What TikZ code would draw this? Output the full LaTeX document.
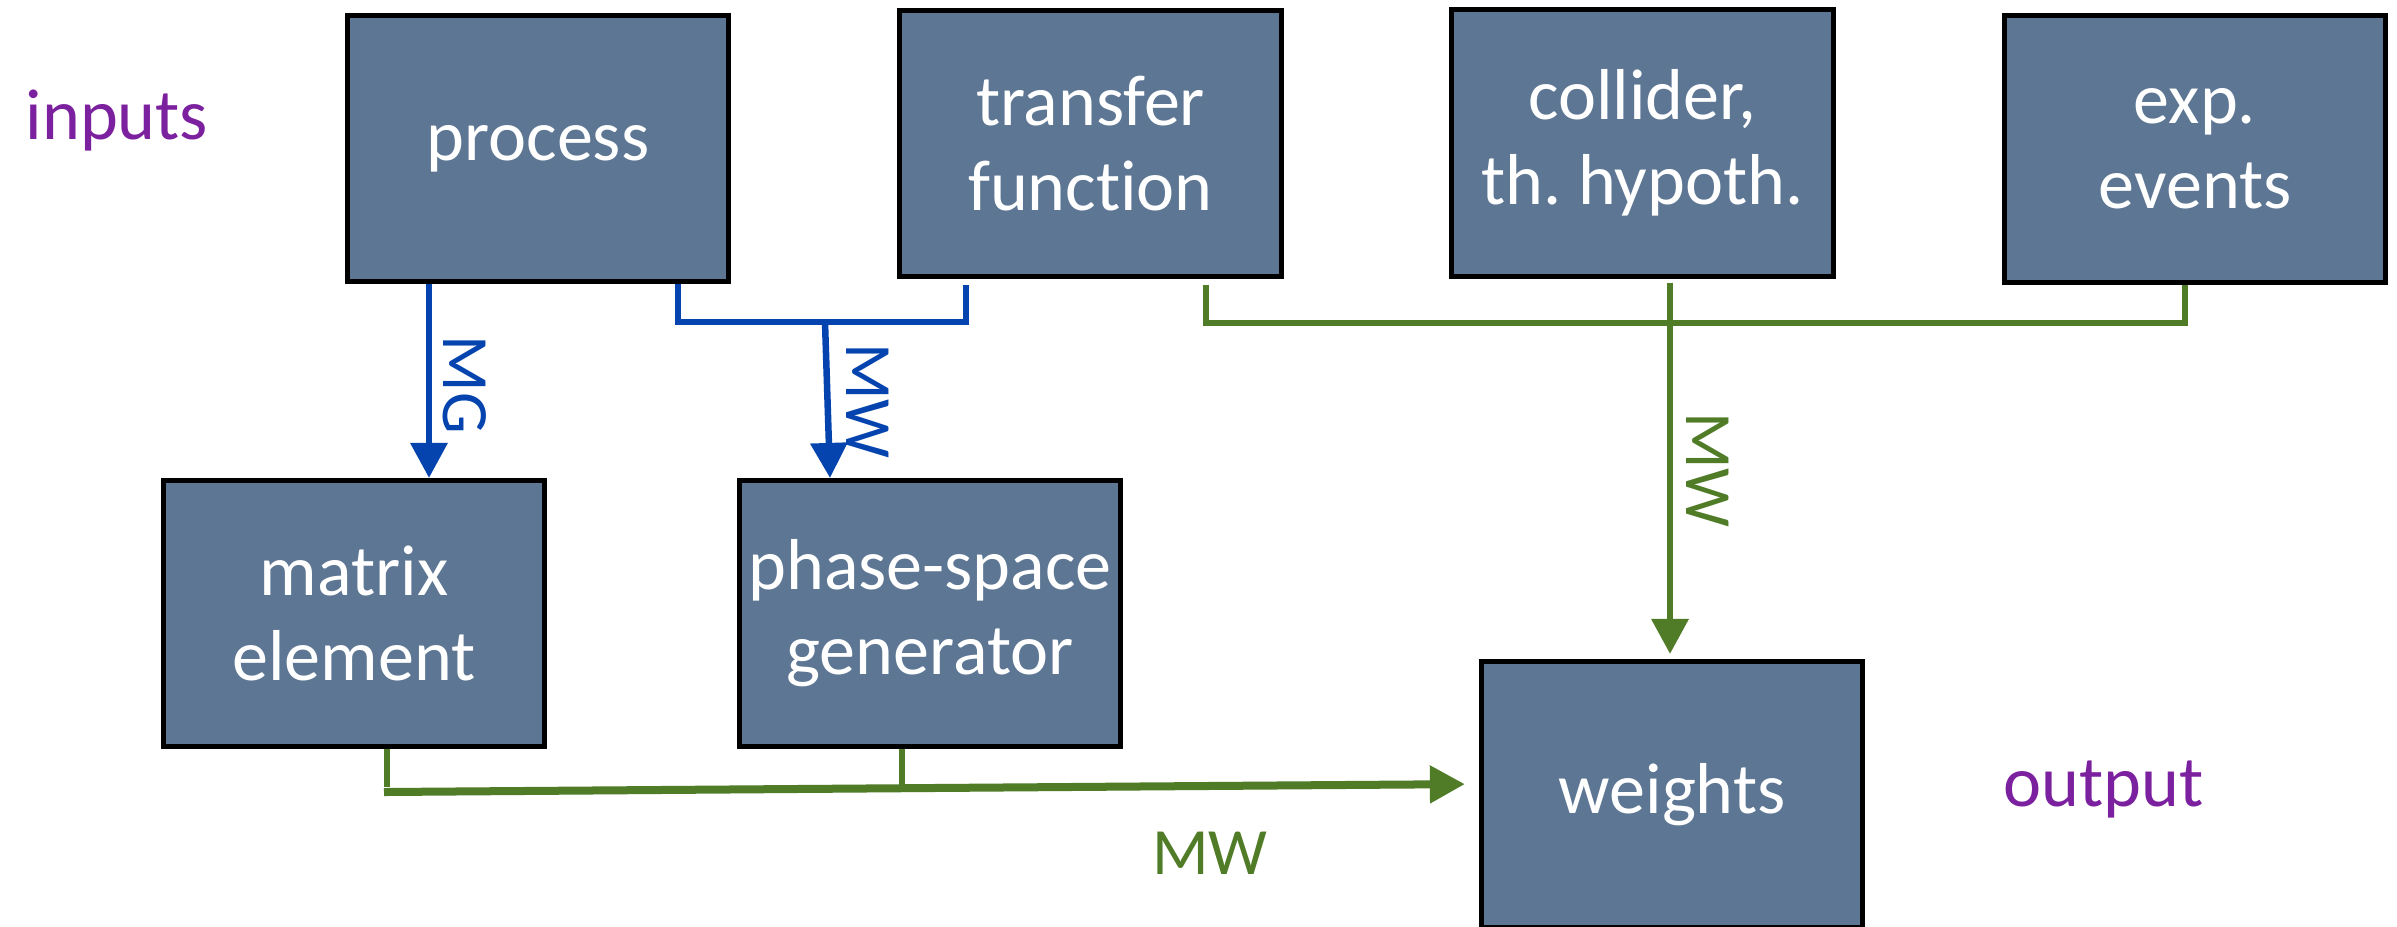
\documentclass[tikz,border=0pt]{standalone}
\usepackage{fontspec}
\setmainfont{Carlito}[Ligatures=NoCommon]
\usetikzlibrary{arrows.meta}
\definecolor{boxfill}{RGB}{93,118,147}
\definecolor{cblue}{RGB}{5,68,175}
\definecolor{cgreen}{RGB}{80,124,40}
\definecolor{cpurple}{RGB}{123,32,158}
\frenchspacing
\begin{document}
\begin{tikzpicture}[x=0.01cm,y=-0.01cm,
  box/.style={draw=black, line width=0.05cm, fill=boxfill, minimum width=3.81cm,
    minimum height=2.66cm, inner sep=0pt, text=white,
    font=\fontsize{20.5}{24.2}\selectfont, align=center},
  side/.style={text=cpurple, font=\fontsize{20.5}{24.2}\selectfont, inner sep=0pt},
  lbl/.style={font=\fontsize{18.8}{22}\selectfont, inner sep=0pt},
  conn/.style={line width=0.065cm},
  tipend/.style={-{Triangle[width=0.36cm,length=0.35cm]}}
]
\useasboundingbox (0,0) rectangle (2397,926);
\fill[white] (0,0) rectangle (2397,926);

% boxes
\node[box] (process)  at (538,148.5)  {process};
\node[box] (transfer) at (1090.5,143.5) {transfer\\function};
\node[box] (collider) at (1642.5,143) {collider,\\th. hypoth.};
\node[box] (exp)      at (2195,149)   {exp.\\events};
\node[box] (matrix)   at (354,613.5)  {matrix\\element};
\node[box] (phase)    at (930,613.5)  {phase-space\\generator};
\node[box] (weights)  at (1672,794.5) {weights};

% side labels
\node[side, anchor=base west] (inputs) at (25,139) {inputs};
\node[side, anchor=base west] (output) at (2003,806) {output};

% blue connectors
\coordinate (mgx) at (429,0);
\draw[conn,cblue,tipend] (process.south -| mgx) -- (matrix.north -| mgx);
\node[lbl,text=cblue,rotate=-90] (mglbl) at (465,385) {MG};

\coordinate (bl) at (678,322);
\coordinate (br) at (966,322);
\draw[conn,cblue,shorten <=0.06cm] (transfer.south -| br) -- (br) -- (bl) -- (process.south -| bl);
\coordinate (mwtop) at (825,322);
\coordinate (mwx) at (830,0);
\draw[conn,cblue,tipend] (mwtop) -- (phase.north -| mwx);
\node[lbl,text=cblue,rotate=-90] (mwblue) at (868,401) {MW};

% green connectors
\coordinate (gl) at (1206,323);
\coordinate (gr) at (2185,323);
\draw[conn,cgreen,shorten <=0.06cm] (transfer.south -| gl) -- (gl) -- (gr) -- (exp.south -| gr);
\coordinate (gv) at (1670,0);
\draw[conn,cgreen,tipend,shorten <=0.04cm,shorten >=0.05cm] (collider.south -| gv) -- (weights.north -| gv);
\node[lbl,text=cgreen,rotate=-90] (mwgreen) at (1708,470) {MW};

\coordinate (bm) at (387,787);
\coordinate (bp) at (902,785);
\draw[conn,cgreen] (matrix.south -| bm) -- (bm);
\draw[conn,cgreen] (phase.south -| bp) -- (bp);
\coordinate (hstart) at (384,792);
\coordinate (hy) at (0,784);
\draw[line width=0.08cm,cgreen,tipend,shorten >=0.14cm] (hstart) -- (weights.west |- hy);
\node[lbl,text=cgreen] (mwbottom) at (1210,853.5) {MW};
\end{tikzpicture}
\end{document}
